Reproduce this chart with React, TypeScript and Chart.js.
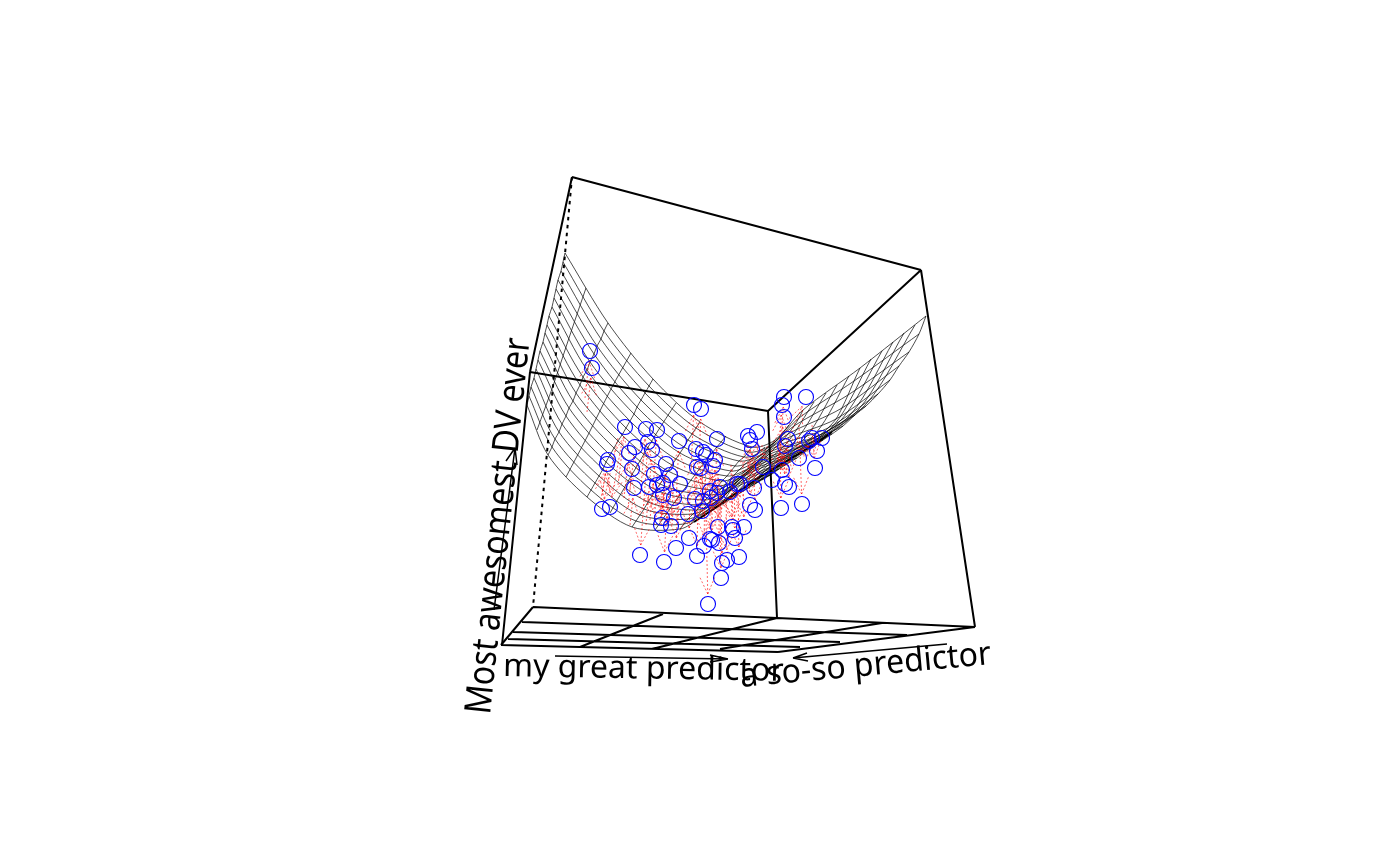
import React, { useEffect, useRef } from "react";
import { Chart, registerables } from "chart.js";

Chart.register(...registerables);

// Everything in the plot's projected plane.
const boxEdges = [
  [572, 177, 921, 270], [572, 177, 530, 372], [530, 372, 502, 645], [530, 372, 768, 411],
  [768, 411, 921, 270], [921, 270, 975, 627], [768, 411, 777, 618],
];
const floorEdges = [
  [533, 607, 777, 618], [777, 618, 975, 627], [501, 645, 533, 607], [501, 645, 778, 652], [778, 652, 975, 627],
  [522, 622, 907, 635], [513, 632, 840, 642], [508, 639, 800, 647],
  [663, 614, 580, 647], [777, 618, 652, 649], [882, 623, 720, 649],
];
const hiddenEdge = [572, 177, 533, 607];
const axisArrows = [
  [555, 656, 728, 659], [710, 655, 728, 659], [710, 662, 728, 659],
  [947, 644, 793, 658], [807, 653, 793, 658], [808, 661, 793, 658],
  [494, 610, 515, 448], [506, 461, 515, 448], [517, 465, 515, 448],
];

// Mesh: long curves cross these sampled columns, one (x, y) per long curve.
const meshA = [[565,253],[563,262],[561,271],[558,280],[556,289],[554,298],[552,307],[549,316],[547,325],[545,333],[543,342],[540,351],[538,360],[536,369],[534,378],[531,387],[529,396],[527,405]];
const meshB = [[608,323],[604,331],[601,339],[597,346],[594,354],[590,362],[587,370],[583,377],[580,385],[576,393],[573,401],[569,408],[566,416],[562,424],[559,432],[555,439],[552,447],[548,455]];
const meshC = [[653,379],[649,386],[645,393],[641,400],[637,407],[634,414],[630,421],[626,428],[622,435],[618,441],[614,448],[610,455],[606,462],[603,469],[599,476],[595,483],[591,490],[587,497]];
const meshD = [[700,422],[696,428],[692,434],[688,440],[684,447],[680,453],[676,459],[672,465],[668,471],[664,478],[660,484],[656,490],[652,496],[648,502],[644,509],[640,515],[636,521],[632,527]];
const meshE = [[752,447],[748,452],[744,457],[739,461],[735,466],[731,471],[727,476],[722,481],[718,486],[714,490],[710,495],[705,500],[701,505],[697,510],[693,514],[688,519],[684,524],[680,529]];
const meshF = [[775,440],[771,445],[766,449],[762,454],[757,458],[753,463],[749,468],[744,472],[740,477],[735,481],[731,486],[726,490],[722,495],[718,500],[713,504],[709,509],[704,513],[700,518]];
const meshG = [[803,410],[799,418],[794,426],[788,434],[783,440],[777,446],[772,451],[768,455],[764,459],[761,462],[756,466],[752,470],[746,475],[742,480],[737,485],[731,490],[725,499],[718,507]];
const meshH = [[860,368],[854,381],[848,395],[842,408],[836,419],[828,428],[820,435],[812,439],[804,445],[796,449],[790,454],[784,458],[777,462],[771,467],[765,471],[759,477],[752,484],[745,490]];
const meshI = [[926,316],[919,334],[909,352],[899,366],[890,380],[878,394],[866,406],[855,415],[843,426],[832,434],[823,440],[814,446],[805,452],[797,458],[787,464],[779,469],[772,474],[765,478]];
const meshColumns = [meshA, meshB, meshC, meshD, meshE, meshF, meshG, meshH, meshI];

// Further crossing curves, read at four places each.
const crossingCurves = [
  [[586,288],[571,332],[553,386],[537,430]],
  [[631,353],[611,389],[587,437],[566,477]],
  [[676,403],[656,434],[630,478],[610,513]],
  [[726,436],[704,463],[677,499],[655,530]],
  [[765,447],[741,468],[712,499],[690,525]],
  [[789,425],[764,455],[735,484],[709,513]],
  [[814,402],[786,444],[754,471],[723,504]],
  [[826,393],[796,440],[760,469],[729,500]],
  [[837,385],[806,437],[767,466],[734,497]],
  [[849,376],[816,433],[773,464],[740,493]],
  [[871,359],[834,425],[784,459],[748,488]],
  [[882,351],[842,419],[789,457],[752,486]],
  [[893,342],[851,414],[794,455],[755,484]],
  [[904,333],[859,409],[798,454],[758,482]],
  [[915,325],[867,403],[803,452],[762,480]],
];
// Where the sheet folds out of view, the mesh lines pile up into one dark edge.
const foldEdge = [[694,522],[712,510],[735,494],[760,477],[790,459],[815,444],[832,432]];

const pointX = [590,592,694,701,625,646,657,679,717,748,757,750,752,635,648,652,629,608,607,632,696,706,703,715,713,666,697,701,654,670,680,634,649,657,663,663,674,695,703,711,720,717,710,730,737,740,750,755,754,688,702,602,610,662,661,671,689,640,676,664,697,704,710,712,719,718,732,733,735,744,739,727,722,721,708,782,784,806,784,788,785,809,812,822,817,799,815,782,772,785,789,781,802,763];
const pointY = [351,368,405,409,427,429,430,441,439,436,432,440,449,447,442,450,453,460,464,469,449,455,452,460,466,464,467,468,474,475,484,488,487,485,483,495,498,499,501,498,487,493,491,492,484,484,505,510,488,514,511,509,507,518,525,526,538,555,548,562,556,546,539,540,543,527,527,530,538,527,557,560,563,578,604,405,397,397,417,439,446,441,438,438,451,458,468,470,480,484,487,508,504,467];
const residualX = [585,587,691,699,618,640,652,676,715,748,758,750,752,630,644,648,624,602,601,628,694,705,702,714,712,663,695,700,650,667,678,630,646,654,660,661,672,694,702,711,720,717,710,730,737,740,749,754,754,688,702,618,622,666,665,674,690,644,678,667,698,705,710,712,719,718,731,732,734,743,738,726,721,720,706,778,780,785,778,783,781,800,803,810,812,797,812,782,772,784,788,780,799,762];
const residualY = [398,412,470,468,485,498,505,505,500,480,478,478,478,490,500,505,498,495,500,508,500,505,503,505,505,515,510,512,520,522,520,525,525,525,522,525,525,520,516,513,508,510,514,503,498,497,462,465,462,490,475,438,442,470,478,480,490,500,495,505,495,480,470,465,480,470,465,470,475,462,490,490,495,505,520,460,455,447,465,470,470,455,455,450,435,437,425,445,450,447,445,440,425,445];

const textLabels = ["my great predictor", "a so-so predictor", "Most awesomest DV ever"];
const textX = [503, 741, 490];
const textY = [676, 687, 715];
const textAngle = [1, -5.2, -84];
const textTallness = [1, 1.04, 1.15];

const segmentsToPoints = (segs: number[][]) =>
  segs.flatMap(([a, b, c, d]) => [{ x: a, y: b }, { x: c, y: d }, { x: NaN, y: NaN }]);
const toPoints = (pairs: number[][]) => pairs.map(([x, y]) => ({ x, y }));

function residualSegments() {
  const shafts: number[][] = [];
  pointX.forEach((px, i) => {
    const sx = residualX[i], sy = residualY[i];
    const len = Math.hypot(px - sx, pointY[i] - sy) || 1;
    const ux = (px - sx) / len, uy = (pointY[i] - sy) / len;
    const stop = Math.min(10, len * 0.4);
    const tipX = px - ux * stop, tipY = pointY[i] - uy * stop;
    shafts.push([sx, sy, tipX, tipY]);
    const barb = Math.min(18, len * 0.6);
    [0.42, -0.42].forEach((t) => {
      const c = Math.cos(t), s = Math.sin(t);
      shafts.push([tipX - barb * (ux * c - uy * s), tipY - barb * (ux * s + uy * c), tipX, tipY]);
    });
  });
  return shafts;
}

const labelPlugin = {
  id: "labels",
  afterDatasetsDraw(chart: any) {
    const { ctx, scales } = chart;
    ctx.save();
    ctx.fillStyle = "#000";
    ctx.font = '32px "Noto Sans"';
    ctx.textAlign = "left";
    ctx.textBaseline = "alphabetic";
    textLabels.forEach((label, i) => {
      ctx.save();
      ctx.translate(scales.x.getPixelForValue(textX[i]), scales.y.getPixelForValue(textY[i]));
      ctx.rotate((textAngle[i] * Math.PI) / 180);
      ctx.scale(1, textTallness[i]);
      ctx.fillText(label, 0, 0);
      ctx.restore();
    });
    ctx.restore();
  },
};

export default function App() {
  const ref = useRef<HTMLCanvasElement>(null);
  useEffect(() => {
    const longCurves = meshA.map((_, k) => ({
      data: toPoints(meshColumns.map((col) => col[k])),
      borderColor: "#000", borderWidth: 0.7, tension: 0.3, order: 5,
    }));
    const crossings = [...meshColumns, ...crossingCurves].map((col) => ({
      data: toPoints(col),
      borderColor: "#000", borderWidth: 0.7, tension: 0.3, order: 5,
    }));
    const chart = new Chart(ref.current!, {
      type: "scatter",
      data: {
        datasets: [
          { data: pointX.map((x, i) => ({ x, y: pointY[i] })), showLine: false, pointRadius: 7.5, pointBorderColor: "#0000ff", pointBorderWidth: 1.1, pointBackgroundColor: "transparent", order: 1 },
          { data: segmentsToPoints(residualSegments()), borderColor: "#ff0000", borderWidth: 0.6, borderDash: [2, 2], order: 3 },
          { data: segmentsToPoints(axisArrows), borderColor: "#000", borderWidth: 1.5, order: 2 },
          { data: segmentsToPoints(boxEdges), borderColor: "#000", borderWidth: 2, order: 4 },
          { data: segmentsToPoints(floorEdges), borderColor: "#000", borderWidth: 2, order: 4 },
          { data: segmentsToPoints([hiddenEdge]), borderColor: "#000", borderWidth: 2, borderDash: [3.5, 4.5], order: 4 },
          { data: toPoints(foldEdge), borderColor: "#000", borderWidth: 2, tension: 0.3, order: 4 },
          ...longCurves,
          ...crossings,
        ].map((d: any) => ({ showLine: true, pointRadius: 0, spanGaps: false, ...d })),
      },
      options: {
        animation: false,
        responsive: false,
        layout: { padding: 0, autoPadding: false },
        plugins: { legend: { display: false }, tooltip: { enabled: false } },
        scales: {
          x: { type: "linear", min: 0, max: 1400, display: false },
          y: { type: "linear", min: 0, max: 866, reverse: true, display: false },
        },
      },
      plugins: [labelPlugin],
    } as any);
    return () => chart.destroy();
  }, []);
  return (
    <div style={{ position: "fixed", left: 0, top: 0, width: 1400, height: 866, background: "#fff" }}>
      <canvas ref={ref} width={1400} height={866} style={{ display: "block" }} />
    </div>
  );
}
